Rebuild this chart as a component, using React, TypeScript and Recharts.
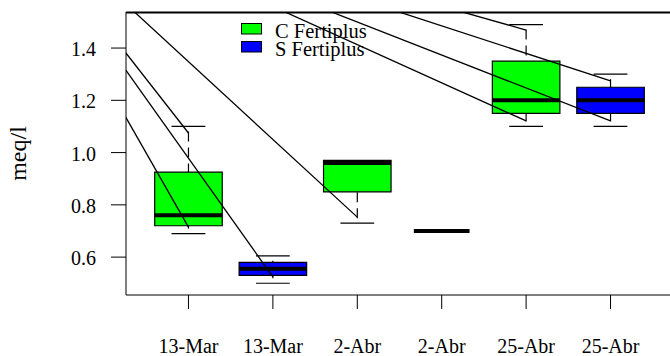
import React from 'react'
import { ComposedChart, XAxis, YAxis, ReferenceArea, ReferenceLine, Legend, Scatter } from 'recharts'

// one box per date and treatment
const dates = ['13-Mar', '13-Mar', '2-Abr', '2-Abr', '25-Abr', '25-Abr']
const treatments = ['C Fertiplus', 'S Fertiplus', 'C Fertiplus', 'S Fertiplus', 'C Fertiplus', 'S Fertiplus']
const whiskerLow = [0.69, 0.5, 0.73, 0.7, 1.1, 1.1]
const quartileLow = [0.72, 0.53, 0.85, 0.7, 1.15, 1.15]
const medians = [0.76, 0.555, 0.96, 0.7, 1.2, 1.2]
const quartileHigh = [0.925, 0.58, 0.97, 0.7, 1.35, 1.25]
const whiskerHigh = [1.1, 0.605, 0.97, 0.7, 1.49, 1.3]

// pointer lines that run in from outside the plot (upper left)
const pointerOrigin = { x: -1.36, y: 2.05 }
const pointerBox = [1, 1, 2, 3, 5, 5, 6, 6]
const pointerValue = [1.075, 0.715, 0.524, 0.753, 1.469, 1.121, 1.274, 1.121]

const yTicks = [0.6, 0.8, 1.0, 1.2, 1.4]
const legendLabels = ['C Fertiplus', 'S Fertiplus']

const colors: Record<string, string> = {
  'C Fertiplus': '#00ff00',
  'S Fertiplus': '#0000ff',
}

const FONT = '"Liberation Serif", "Times New Roman", serif'
const xDomain = [0.26, 6.74]
const yDomain = [0.455, 1.538]

function YTitle(props: any) {
  const vb = props.viewBox || { x: 0, y: 12, width: 126, height: 283 }
  const cx = vb.x + 26
  const cy = vb.y + vb.height / 2
  return (
    <text x={cx} y={cy} transform={`rotate(-90 ${cx} ${cy})`} textAnchor="middle"
      fontFamily={FONT} fontSize={24} fill="#000">
      meq/l
    </text>
  )
}

function XTick(props: any) {
  const { x, y, payload } = props
  return (
    <text x={x} y={y} dy={14.2} textAnchor="middle" fontFamily={FONT} fontSize={20} fill="#000">
      {dates[payload.value - 1]}
    </text>
  )
}

function YTick(props: any) {
  const { x, y, payload } = props
  return (
    <text x={x} y={y} dy={8} textAnchor="end" fontFamily={FONT} fontSize={20} fill="#000">
      {Number(payload.value).toFixed(1)}
    </text>
  )
}

function LegendBox() {
  return (
    <svg width={150} height={55} style={{ display: 'block' }}>
      {legendLabels.map((name, i) => (
        <g key={name}>
          <rect x={11.5} y={13.5 + i * 18} width={20} height={10.5} fill={colors[name]} stroke="#000" />
          <text x={45} y={28 + i * 17.5} fontFamily={FONT} fontSize={20.5} fill="#000">{name}</text>
        </g>
      ))}
    </svg>
  )
}

export default function App() {
  const rows = dates.map((d, i) => ({ x: i + 1, date: d, name: treatments[i], median: medians[i] }))
  return (
    <div style={{ position: 'absolute', left: 0, top: 0, width: 670, height: 356, overflow: 'hidden', background: '#fff', fontFamily: FONT }}>
      <ComposedChart width={690} height={356} data={rows} margin={{ top: 10, right: 17, bottom: 0, left: 0 }}>
        <XAxis
          dataKey="x"
          type="number"
          domain={xDomain}
          allowDataOverflow
          ticks={[1, 2, 3, 4, 5, 6]}
          interval={0}
          height={61}
          tickSize={14}
          tickMargin={30}
          axisLine={{ stroke: '#000' }}
          tickLine={{ stroke: '#000' }}
          tick={<XTick />}
        />
        {/* top side of the plot frame */}
        <XAxis
          xAxisId="top"
          dataKey="x"
          orientation="top"
          type="number"
          domain={xDomain}
          allowDataOverflow
          height={2}
          ticks={[1]}
          tick={false}
          tickLine={false}
          axisLine={{ stroke: '#000', strokeWidth: 1.2 }}
        />
        <YAxis
          type="number"
          domain={yDomain}
          allowDataOverflow
          ticks={yTicks}
          interval={0}
          width={126}
          tickSize={15}
          tickMargin={15}
          axisLine={{ stroke: '#000' }}
          tickLine={{ stroke: '#000' }}
          tick={<YTick />}
          label={<YTitle />}
        />
        <Legend layout="horizontal" verticalAlign="middle" align="center" content={<LegendBox />}
          wrapperStyle={{ position: 'absolute', left: 230, top: 10, width: 150, height: 55 }} />

        <ReferenceLine y={yDomain[1] - 0.003} ifOverflow="visible" stroke="#000" strokeWidth={1.4} />

        {rows.map((b, i) =>
          quartileLow[i] === quartileHigh[i] ? null : (
            <ReferenceArea key={`box${i}`} x1={b.x - 0.4} x2={b.x + 0.4} y1={quartileLow[i]} y2={quartileHigh[i]}
              fill={colors[b.name]} fillOpacity={1} stroke="#000" strokeWidth={1.2} />
          )
        )}

        {rows.map((b, i) =>
          whiskerHigh[i] > quartileHigh[i] ? (
            <ReferenceLine key={`wh${i}`} segment={[{ x: b.x, y: whiskerHigh[i] }, { x: b.x, y: quartileHigh[i] }]}
              stroke="#000" strokeWidth={1.2} strokeDasharray="10 6" strokeDashoffset={11} />
          ) : null
        )}
        {rows.map((b, i) =>
          whiskerLow[i] < quartileLow[i] ? (
            <ReferenceLine key={`wl${i}`} segment={[{ x: b.x, y: whiskerLow[i] }, { x: b.x, y: quartileLow[i] }]}
              stroke="#000" strokeWidth={1.2} strokeDasharray="10 6" strokeDashoffset={11} />
          ) : null
        )}
        {rows.map((b, i) =>
          whiskerHigh[i] > quartileHigh[i] ? (
            <ReferenceLine key={`ch${i}`} segment={[{ x: b.x - 0.2, y: whiskerHigh[i] }, { x: b.x + 0.2, y: whiskerHigh[i] }]}
              stroke="#000" strokeWidth={1.2} />
          ) : null
        )}
        {rows.map((b, i) =>
          whiskerLow[i] < quartileLow[i] ? (
            <ReferenceLine key={`cl${i}`} segment={[{ x: b.x - 0.2, y: whiskerLow[i] }, { x: b.x + 0.2, y: whiskerLow[i] }]}
              stroke="#000" strokeWidth={1.2} />
          ) : null
        )}
        {rows.map((b, i) => {
          const half = quartileLow[i] === quartileHigh[i] ? 0.33 : 0.4
          return (
            <ReferenceLine key={`md${i}`} segment={[{ x: b.x - half, y: medians[i] }, { x: b.x + half, y: medians[i] }]}
              stroke="#000" strokeWidth={4} />
          )
        })}

        {pointerBox.map((bx, i) => (
          <ReferenceLine key={`pt${i}`} ifOverflow="hidden"
            segment={[pointerOrigin, { x: bx, y: pointerValue[i] }]}
            stroke="#000" strokeWidth={1.3} />
        ))}

        <Scatter dataKey="median" isAnimationActive={false} shape={() => <g />} legendType="none" />
      </ComposedChart>
    </div>
  )
}
